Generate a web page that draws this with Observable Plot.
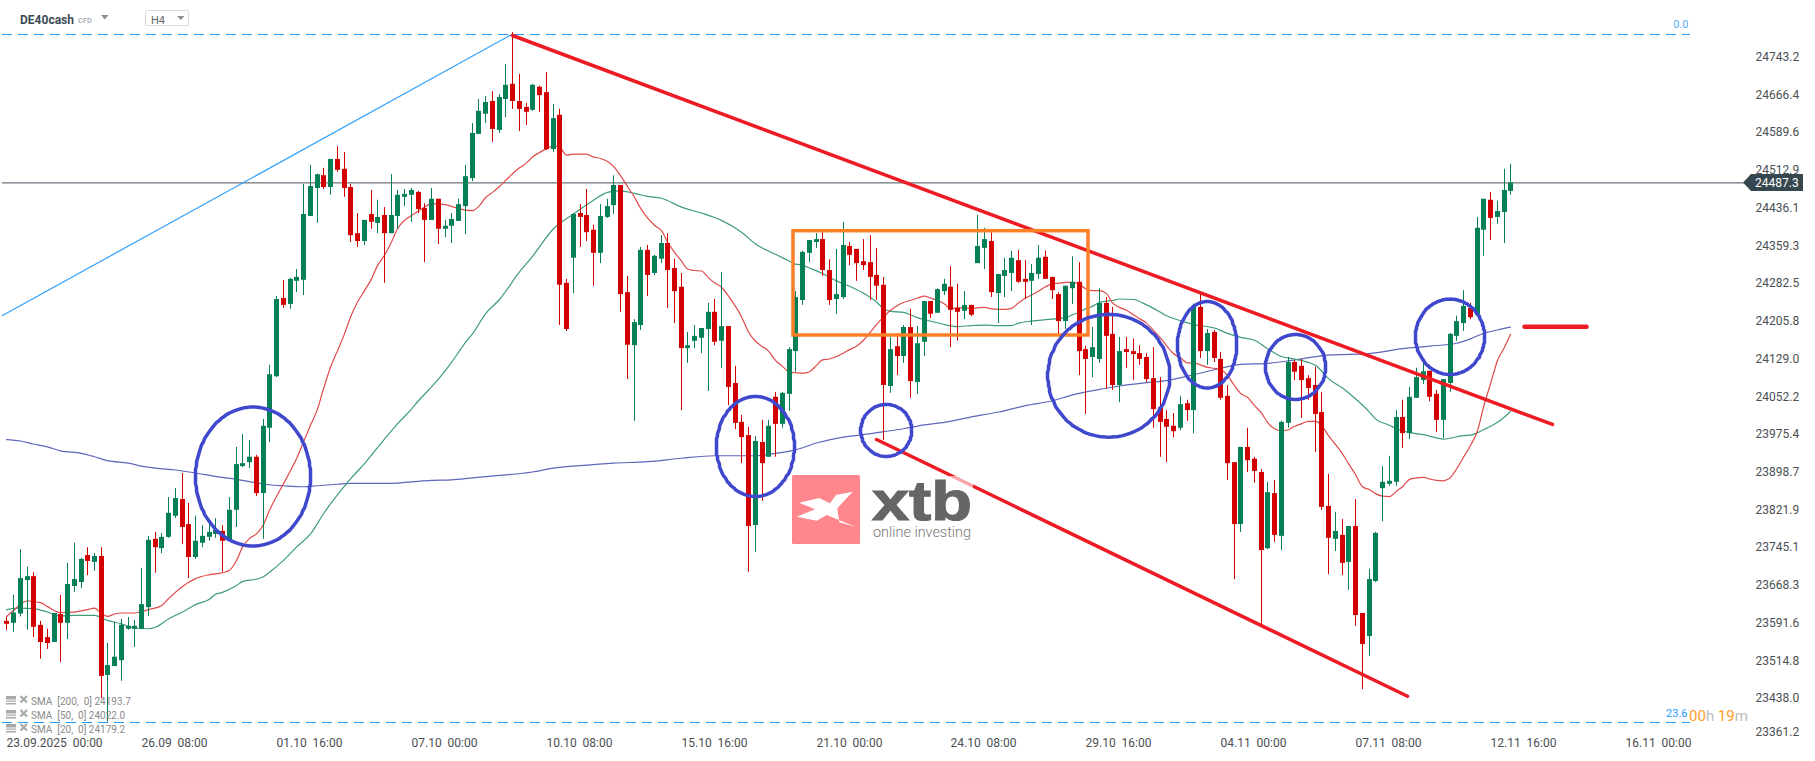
<!DOCTYPE html>
<html>
<head>
<meta charset="utf-8">
<script src="https://cdn.jsdelivr.net/npm/d3@7"></script>
<script src="https://cdn.jsdelivr.net/npm/@observablehq/plot@0.6"></script>
<style>
html,body{margin:0;padding:0;background:#fff;overflow:hidden}
svg{display:block}
</style>
</head>
<body>
<div id="chart"></div>
<script>
const opens = [
23595,23591,23610,23678,23686,23587,23562,23552,23609,23591,
23666,23674,23729,23715,23727,23485,23503,23515,23579,23579,
23579,23623,23762,23743,23766,23809,23843,23792,23725,23754,
23766,23772,23778,23760,23821,23910,23918,23929,23855,23988,
24093,24252,24240,24287,24289,24419,24476,24502,24478,24535,
24515,24478,24384,24368,24423,24405,24421,24384,24419,24458,
24462,24468,24435,24411,24454,24393,24399,24409,24439,24496,
24586,24627,24653,24594,24657,24688,24653,24641,24635,24682,
24671,24555,24625,24283,24334,24425,24421,24391,24344,24417,
24441,24482,24264,24156,24197,24350,24303,24332,24364,24313,
24275,24150,24165,24171,24189,24224,24165,24195,24079,24000,
23973,23790,23959,23929,24051,23996,24057,24144,24248,24344,
24366,24372,24309,24250,24254,24358,24352,24327,24325,24299,
24279,24073,24154,24134,24193,24081,24163,24246,24222,24266,
24275,24232,24226,24238,24323,24354,24368,24262,24297,24303,
24329,24291,24287,24301,24336,24295,24260,24205,24272,24285,
24148,24132,24128,24242,24179,24075,24148,24144,24140,24132,
24089,24030,24006,23992,23988,24038,24024,24234,24144,24183,
24128,24053,23918,23792,23949,23925,23898,23743,23855,23768,
23998,24122,24114,24089,24075,24020,23829,23762,23770,23715,
23788,23611,23564,23676,23865,23874,23878,24010,23977,24049,
24085,24104,24057,24004,24079,24175,24201,24232,24218,24391,
24452,24417,24427,24470];
const highs = [
23604,23648,23741,23705,23694,23595,23579,23611,23648,23713,
23754,23723,23745,23733,23745,23550,23593,23599,23603,23597,
23703,23768,23776,23774,23847,23865,23896,23835,23809,23790,
23796,23804,23790,23847,23949,23975,23963,23933,24006,24116,
24256,24289,24293,24311,24484,24523,24505,24517,24535,24561,
24549,24484,24425,24411,24472,24452,24437,24504,24472,24474,
24476,24470,24445,24476,24454,24411,24425,24454,24523,24608,
24657,24663,24673,24667,24728,24793,24708,24649,24688,24684,
24712,24647,24637,24291,24425,24443,24474,24401,24443,24454,
24502,24482,24297,24209,24356,24360,24340,24380,24384,24332,
24303,24183,24197,24191,24242,24250,24305,24195,24114,24014,
23990,23971,24004,24004,24061,24061,24152,24266,24348,24370,
24384,24386,24331,24352,24407,24366,24352,24372,24380,24354,
24295,24173,24181,24197,24230,24195,24246,24246,24272,24291,
24317,24281,24266,24238,24421,24395,24386,24301,24334,24348,
24350,24329,24321,24360,24348,24295,24264,24277,24337,24325,
24155,24193,24272,24254,24234,24173,24173,24169,24156,24140,
24152,24091,24024,24018,24053,24045,24241,24260,24189,24187,
24142,24075,23918,23949,23988,23929,23904,23878,23882,24002,
24132,24126,24128,24095,24112,24061,23894,23817,23802,23788,
23843,23611,23701,23776,23910,23931,24024,24045,24071,24110,
24122,24104,24065,24087,24181,24216,24268,24242,24417,24454,
24468,24450,24515,24525];
const lows = [
23576,23573,23604,23577,23562,23518,23538,23552,23511,23558,
23654,23662,23688,23697,23437,23390,23503,23473,23577,23542,
23578,23605,23693,23733,23764,23804,23751,23682,23721,23745,
23758,23764,23695,23758,23786,23908,23906,23849,23762,23959,
24091,24232,24230,24264,24258,24419,24405,24474,24462,24509,
24458,24366,24356,24360,24393,24384,24283,24384,24393,24439,
24407,24425,24325,24411,24362,24376,24364,24409,24382,24490,
24586,24608,24570,24588,24620,24637,24592,24604,24633,24631,
24553,24549,24197,24185,24262,24356,24368,24277,24323,24415,
24423,24224,24087,24002,24187,24256,24299,24323,24232,24201,
24024,24120,24150,24140,24063,24156,24110,24034,23985,23916,
23695,23735,23839,23929,23929,23988,24022,24102,24238,24325,
24354,24297,24238,24220,24250,24319,24287,24309,24248,24248,
23963,24059,24095,24120,24049,24057,24134,24211,24222,24258,
24152,24165,24209,24215,24323,24311,24254,24201,24254,24266,
24283,24250,24197,24291,24291,24250,24177,24189,24240,24095,
24016,24091,24120,24067,24065,24040,24110,24085,24116,24081,
23988,23929,23918,23969,23983,24002,23977,24130,24116,24122,
24045,23882,23680,23776,23898,23876,23587,23741,23756,23739,
23988,24085,24008,24045,23939,23821,23690,23737,23688,23658,
23585,23456,23524,23674,23798,23870,23870,23947,23965,24049,
24077,24042,23979,23967,24061,24165,24185,24209,24217,24338,
24370,24403,24364,24462];
const closes = [
23589,23612,23682,23686,23583,23552,23550,23611,23591,23670,
23680,23721,23717,23727,23483,23505,23522,23587,23585,23585,
23629,23760,23745,23766,23815,23845,23786,23725,23758,23768,
23776,23780,23758,23821,23914,23916,23929,23855,23992,24097,
24250,24238,24291,24295,24423,24480,24504,24478,24535,24513,
24476,24380,24368,24411,24407,24417,24384,24421,24462,24464,
24472,24433,24411,24454,24393,24399,24413,24443,24500,24588,
24633,24651,24596,24661,24686,24653,24637,24631,24686,24665,
24555,24618,24279,24189,24423,24417,24386,24344,24419,24439,
24482,24260,24157,24203,24350,24299,24338,24364,24309,24266,
24150,24156,24175,24191,24224,24163,24195,24071,23998,23969,
23788,23961,23916,23992,23996,24059,24148,24254,24346,24370,
24372,24309,24248,24260,24360,24340,24323,24319,24295,24277,
24075,24148,24134,24193,24083,24160,24246,24220,24270,24281,
24228,24224,24238,24218,24358,24372,24264,24301,24309,24334,
24285,24285,24303,24334,24291,24268,24205,24277,24285,24144,
24128,24152,24242,24175,24075,24144,24142,24138,24128,24087,
24026,24000,23990,23981,24036,24024,24234,24144,24181,24130,
24049,23916,23792,23949,23922,23900,23739,23857,23770,24000,
24122,24102,24085,24069,24016,23827,23764,23778,23713,23788,
23607,23548,23680,23774,23878,23880,24010,23977,24051,24091,
24103,24051,24004,24087,24179,24205,24236,24213,24395,24454,
24415,24429,24472,24487.3];

// SMA 20: bar index and value
const sma20Bars = [0,1,3,4,5,6,8,10,12,13,14,15,16,17,19,20,21,23,24,26,28,30,32,33,34,35,36,37,38,39,41,42,43,44,45,46,47,48,49,50,51,52,53,54,55,56,57,58,59,60,61,62,63,65,67,68,69,70,71,72,73,74,75,76,77,78,79,80,81,82,83,84,85,86,87,88,89,90,91,92,93,94,95,96,97,98,99,100,101,102,103,104,105,106,107,108,109,110,111,112,113,114,115,116,117,118,119,120,121,122,123,124,125,126,127,128,129,130,131,132,133,134,135,136,137,138,139,140,141,142,143,144,145,146,147,148,149,150,151,152,153,154,155,156,157,158,159,160,161,162,163,164,165,166,167,168,169,170,171,172,173,174,175,176,177,178,179,180,181,182,183,184,185,186,187,188,189,190,191,192,193,194,195,196,197,198,199,200,201,202,203,204,205,206,207,208,209,210,211,212,213,214,215,216,217,218,219,220,221,222,223];
const sma20Values = [23605,23617,23637,23635,23633,23625,23613,23614,23619,23622,23611,23605,23610,23612,23612,23615,23619,23627,23641,23666,23682,23690,23694,23699,23719,23746,23764,23773,23792,23821,23875,23902,23926,23960,23994,24027,24068,24112,24146,24180,24214,24245,24268,24292,24319,24340,24367,24394,24411,24421,24430,24438,24445,24443,24435,24432,24431,24439,24457,24468,24480,24492,24506,24518,24528,24540,24549,24557,24562,24560,24544,24546,24546,24546,24540,24537,24531,24521,24502,24480,24458,24436,24416,24401,24390,24367,24346,24328,24312,24309,24308,24294,24284,24275,24257,24236,24215,24184,24165,24154,24145,24126,24114,24102,24101,24100,24103,24116,24127,24129,24134,24141,24148,24155,24167,24184,24199,24214,24228,24238,24244,24248,24253,24257,24253,24248,24241,24231,24233,24233,24232,24233,24234,24231,24230,24230,24232,24243,24253,24259,24267,24276,24282,24283,24285,24285,24281,24272,24268,24268,24262,24243,24234,24228,24219,24211,24202,24187,24172,24156,24140,24131,24121,24121,24117,24112,24110,24108,24095,24075,24059,24051,24034,24019,24000,23987,23983,23985,23992,23997,24002,24002,23994,23973,23955,23936,23916,23894,23869,23863,23855,23850,23849,23860,23869,23884,23887,23888,23885,23882,23881,23888,23905,23929,23953,23983,24031,24078,24126,24153,24179.2];

// SMA 50
const sma50Bars = [0,2,4,6,8,10,13,15,17,19,21,22,24,26,28,30,31,32,34,35,37,38,39,41,43,45,47,48,51,53,56,58,60,61,63,65,66,68,69,71,73,76,78,81,84,87,89,91,93,95,97,100,103,106,109,111,114,116,117,118,119,121,123,125,127,129,130,131,133,135,137,139,141,143,145,147,149,150,152,154,157,158,159,160,161,162,164,165,167,169,171,172,174,176,179,181,183,185,187,189,191,193,194,195,196,198,200,202,203,205,206,208,210,213,216,217,218,219,220,221,222,223];
const sma50Values = [23619,23622,23621,23614,23606,23607,23607,23597,23590,23581,23580,23583,23600,23614,23629,23640,23650,23654,23668,23676,23681,23686,23695,23719,23746,23773,23814,23834,23885,23916,23966,23997,24027,24044,24072,24106,24122,24163,24180,24221,24250,24306,24338,24394,24424,24452,24468,24471,24466,24460,24456,24438,24426,24411,24387,24363,24342,24328,24322,24320,24314,24303,24288,24277,24263,24245,24231,24226,24224,24213,24206,24199,24195,24197,24198,24197,24197,24202,24206,24209,24213,24219,24224,24231,24236,24244,24248,24251,24250,24239,24224,24217,24207,24199,24192,24181,24173,24167,24150,24134,24129,24122,24116,24105,24089,24070,24048,24021,24007,23994,23987,23979,23975,23966,23973,23974,23979,23985,23992,24000,24011,24022];

// SMA 200
const sma200Bars = [0,2,4,6,8,11,13,15,18,20,22,25,28,31,34,37,39,41,44,46,49,51,57,60,63,66,69,73,78,81,85,90,95,100,105,108,111,114,117,120,124,127,130,133,136,139,143,147,151,155,158,162,165,169,172,175,179,183,187,191,196,202,207,211,215,217,219,221,223];
const sma200Values = [23965,23962,23956,23950,23942,23937,23930,23922,23917,23911,23907,23903,23897,23890,23884,23877,23873,23871,23869,23871,23874,23876,23876,23879,23882,23883,23887,23892,23899,23907,23912,23917,23920,23927,23932,23932,23932,23937,23944,23958,23970,23975,23981,23987,23995,24000,24011,24021,24034,24044,24056,24067,24074,24081,24085,24094,24107,24118,24120,24127,24137,24140,24150,24155,24161,24170,24181,24188,24193.7];

// Scale of the picture
const priceTop = 24858.5, priceBottom = 23360.7;
const barLeft = -0.9386, barRight = 258.55;

// Axis
const yTicks = [24743.2,24666.4,24589.6,24512.9,24436.1,24359.3,24282.5,24205.8,24129.0,24052.2,23975.4,23898.7,23821.9,23745.1,23668.3,23591.6,23514.8,23438.0];
const yTickLast = [23361.2];
const xTickBars = [0,20,40,60,80,100,120,140,160,180,200,220,240];
const xTickLabels = ["23.09.2025  00:00","26.09  08:00","01.10  16:00","07.10  00:00","10.10  08:00","15.10  16:00","21.10  00:00","24.10  08:00","29.10  16:00","04.11  00:00","07.11  08:00","12.11  16:00","16.11  00:00"];

// Levels and drawings
const currentPrice = 24487.3;
const fib0 = 24789.3, fib236 = 23389.2;
const levelStart = -0.64, fibEnd = 249.66, priceLineEnd = 257.8;
const swingLine = [{b:-0.64,p:24217.5},{b:74.7,p:24788}];
const upperTrend = [{b:74.94,p:24787.3},{b:229.2,p:23995.7}];
const lowerTrend = [{b:128.96,p:23965.1},{b:207.65,p:23442.7}];
const dashMark = [{b:225.04,p:24194.5},{b:234.3,p:24194.5}];
const boxArea = {b1:116.7,b2:160.4,p1:24176.8,p2:24389};
const ellipseBars = [36.5,111.0,130.4,163.4,178.0,191.1,214.0];
const ellipsePrices = [23889.8,23950.9,23983.5,24094.8,24157.8,24112.7,24174.1];
const ellipseBarRadii = [8.53,5.78,3.78,9.05,4.4,4.45,5.12];
const ellipsePriceRadii = [141.4,101.8,52.9,125,88.1,66.1,76.7];

// Tables for the library
const candles = opens.map((o,i)=>({i,o,h:highs[i],l:lows[i],c:closes[i]}));
const pair = (bars,vals)=>bars.map((b,k)=>({b,p:vals[k]}));
const ellipses = ellipseBars.flatMap((cx,k)=>d3.range(0,361,3).map(a=>({
  k,
  b:cx+ellipseBarRadii[k]*Math.cos(a*Math.PI/180),
  p:ellipsePrices[k]+ellipsePriceRadii[k]*Math.sin(a*Math.PI/180)
})));

const UP="#057f55", DOWN="#d20000";
const PAINT_RED="#ed1c24", PAINT_BLUE="#3f48cc", PAINT_ORANGE="#ff7f27";
const FIB="#1f9bff", AXIS="#4a4f54", SLATE="#37474f";
const col=d=>d.c>=d.o?UP:DOWN;

function chrome(index, scales){
  const g=d3.create("svg:g").style("font-family","Roboto, sans-serif").attr("text-anchor","start");
  // watermark
  g.append("rect").attr("x",948).attr("y",476).attr("width",25).attr("height",16).attr("fill","#fff").attr("fill-opacity",0.6);
  g.append("rect").attr("x",792).attr("y",475).attr("width",68).attr("height",69).attr("rx",1.5).attr("fill","#ff868d");
  g.append("path").attr("fill","#fff")
    .attr("d","M799.3 502.7 L819.3 498 L830 503.3 L836 495 L852.7 491.7 L837.3 508.3 L839.3 522.3 L856 527 L826.7 515 L816.7 520.7 L796.7 516.7 L815 509.3 Z");
  g.append("text").attr("x",872).attr("y",520).attr("textLength",100).attr("lengthAdjust","spacingAndGlyphs")
    .attr("font-family","Liberation Sans, Arial, sans-serif").attr("font-weight",700).attr("font-size",56).attr("fill","#666")
    .attr("stroke","#666").attr("stroke-width",1.2).text("xtb");
  g.append("text").attr("x",873).attr("y",537).attr("textLength",98).attr("lengthAdjust","spacingAndGlyphs")
    .attr("font-size",15.5).attr("font-weight",300).attr("fill","#777").text("online investing");
  // header
  g.append("text").attr("x",20).attr("y",23.5).attr("font-size",13).attr("font-weight",700).attr("fill","#3c4a54")
    .attr("textLength",54).attr("lengthAdjust","spacingAndGlyphs").text("DE40cash");
  g.append("text").attr("x",78).attr("y",22.5).attr("font-size",8).attr("font-weight",500).attr("fill","#a3a8ad")
    .attr("textLength",14).attr("lengthAdjust","spacingAndGlyphs").text("CFD");
  g.append("path").attr("d","M101 15 H108.5 L104.8 19.5 Z").attr("fill","#8c9196");
  g.append("rect").attr("x",145.5).attr("y",10.5).attr("width",43).attr("height",15).attr("rx",1.5).attr("fill","#fff").attr("stroke","#dcdcdc");
  g.append("text").attr("x",151).attr("y",24).attr("font-size",11).attr("fill","#666").text("H4");
  g.append("path").attr("d","M177 16 H184.5 L180.8 20 Z").attr("fill","#8c9196");
  // indicator legend
  const rows=[[705,"SMA  [200,  0] 24193.7"],[719,"SMA  [50,  0] 24022.0"],[733,"SMA  [20,  0] 24179.2"]];
  for(const [y,t] of rows){
    g.append("path").attr("fill","#a9a9a9").attr("d",`M6 ${y-9}h10v3.5h-10zM6 ${y-4.5}h10v1.2h-10zM6 ${y-2}h10v1.5h-10z`);
    g.append("path").attr("stroke","#a9a9a9").attr("stroke-width",2.2).attr("d",`M20.5 ${y-9}l6.5 6.5M27 ${y-9}l-6.5 6.5`);
    g.append("text").attr("x",31).attr("y",y).attr("font-size",10).attr("fill","#8a8a8a").text(t);
  }
  // countdown
  const t=g.append("text").attr("x",1689).attr("y",721).attr("font-size",15);
  [["00","#ff9c27"],["h ","#bdbdbd"],["19","#ff9c27"],["m","#bdbdbd"]].forEach(([s,c])=>t.append("tspan").attr("fill",c).text(s));
  // price tag
  const y=scales.y(currentPrice);
  g.append("path").attr("fill",SLATE).attr("d",`M1743 ${y} L1751 ${y-8.5} H1803 V${y+8.5} H1751 Z`);
  g.append("text").attr("x",1755).attr("y",y+4.6).attr("font-size",12).attr("fill","#fff").text("24487.3");
  return g.node();
}

const chart = Plot.plot({
  width:1815, height:761,
  marginTop:0, marginBottom:25, marginLeft:0, marginRight:65,
  style:{fontFamily:"Roboto, sans-serif",fontSize:"12px",background:"#fff",overflow:"visible"},
  x:{domain:[barLeft,barRight],round:true,axis:null},
  y:{domain:[priceBottom,priceTop],axis:null},
  marks:[
    Plot.ruleY([currentPrice],{x1:levelStart,x2:priceLineEnd,stroke:"#46525c",strokeWidth:1}),
    Plot.ruleY([fib0,fib236],{x1:levelStart,x2:fibEnd,stroke:FIB,strokeWidth:1,strokeDasharray:"10,6"}),
    Plot.line(swingLine,{x:"b",y:"p",stroke:"#2e9ffb",strokeWidth:1.2}),
    Plot.line(pair(sma200Bars,sma200Values),{x:"b",y:"p",stroke:"#5f67bb",strokeWidth:1.2,curve:"monotone-x"}),
    Plot.line(pair(sma50Bars,sma50Values),{x:"b",y:"p",stroke:"#3f9c7b",strokeWidth:1.2,curve:"monotone-x"}),
    Plot.line(pair(sma20Bars,sma20Values),{x:"b",y:"p",stroke:"#e04a4a",strokeWidth:1.2,curve:"monotone-x"}),
    Plot.ruleX(candles,{x:"i",y1:"l",y2:"h",stroke:col,strokeWidth:1}),
    Plot.ruleX(candles,{x:"i",y1:"o",y2:"c",stroke:col,strokeWidth:5}),
    Plot.line(upperTrend,{x:"b",y:"p",stroke:PAINT_RED,strokeWidth:3.5}),
    Plot.line(lowerTrend,{x:"b",y:"p",stroke:PAINT_RED,strokeWidth:3.5}),
    Plot.line(dashMark,{x:"b",y:"p",stroke:PAINT_RED,strokeWidth:4.5,strokeLinecap:"round"}),
    Plot.rect([boxArea],{x1:"b1",x2:"b2",y1:"p1",y2:"p2",stroke:PAINT_ORANGE,strokeWidth:3.5,fill:"none"}),
    Plot.line(ellipses,{x:"b",y:"p",z:"k",stroke:PAINT_BLUE,strokeWidth:3.5}),
    Plot.text([fib0],{x:fibEnd-0.3,y:d=>d,text:()=>"0.0",textAnchor:"end",dy:-10,fill:"#52aef7",fontSize:11}),
    Plot.text([fib236],{x:fibEnd-0.45,y:d=>d,text:()=>"23.6",textAnchor:"end",dy:-9,fill:"#1f9bff",fontSize:11}),
    Plot.axisY(yTicks,{anchor:"right",tickSize:0,tickPadding:5,label:null,tickFormat:d=>d.toFixed(1),color:AXIS,fontSize:12}),
    Plot.axisY(yTickLast,{anchor:"right",tickSize:0,tickPadding:5,label:null,tickFormat:d=>d.toFixed(1),color:AXIS,fontSize:12,dy:-4}),
    Plot.axisX(xTickBars,{anchor:"bottom",tickSize:0,tickPadding:2,label:null,textAnchor:"start",color:AXIS,fontSize:12,
      tickFormat:d=>xTickLabels[xTickBars.indexOf(d)]}),
    chrome
  ]
});
d3.select(chart).selectAll("text").style("white-space","pre");
document.getElementById("chart").append(chart);
</script>
</body>
</html>
